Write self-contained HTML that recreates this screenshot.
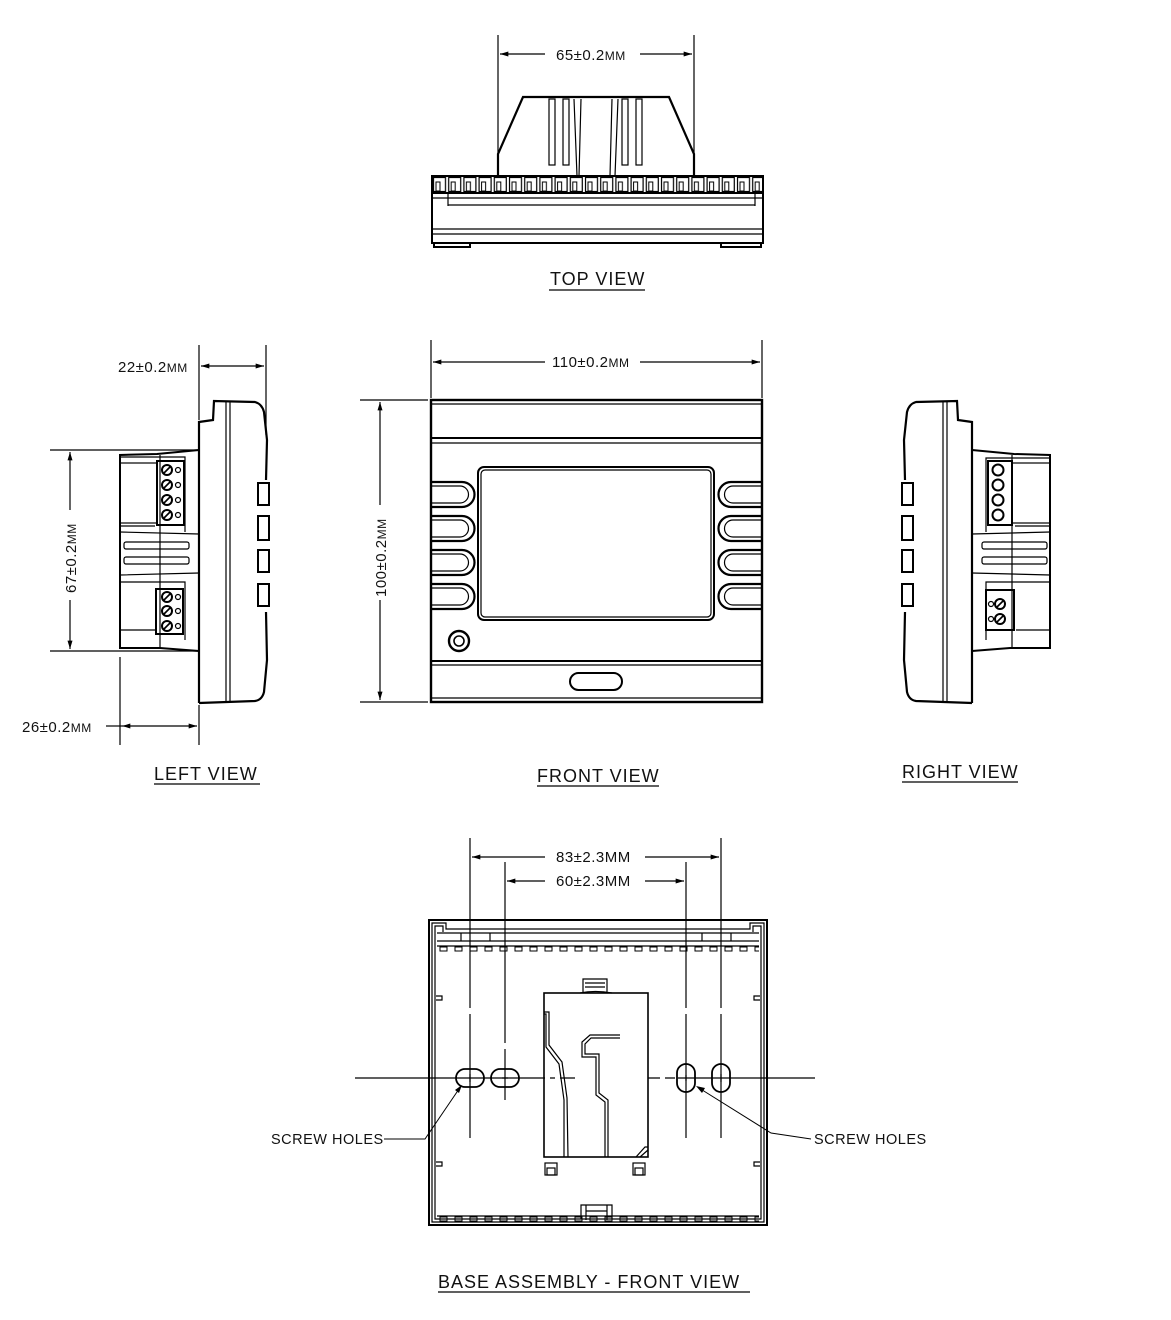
<!DOCTYPE html>
<html><head><meta charset="utf-8"><style>
html,body{margin:0;padding:0;background:#fff}
svg{display:block}
text{font-family:"Liberation Sans",sans-serif;fill:#111}
</style></head><body>
<svg width="1171" height="1320" viewBox="0 0 1171 1320" xmlns="http://www.w3.org/2000/svg">
<defs>
<marker id="a" viewBox="0 0 10 6" refX="10" refY="3" markerWidth="12" markerHeight="5" orient="auto-start-reverse" markerUnits="userSpaceOnUse"><path d="M0,0 L10,3 L0,6z" fill="#000"/></marker>
<pattern id="slots" x="432" y="176" width="15.2" height="17" patternUnits="userSpaceOnUse">
<rect x="1.5" y="1.5" width="12" height="14" fill="none" stroke="#000" stroke-width="1.2"/>
<rect x="4" y="6" width="4" height="9" fill="none" stroke="#000" stroke-width="1"/>
</pattern>
<pattern id="bslots" x="437" y="945" width="15" height="10" patternUnits="userSpaceOnUse">
<rect x="3" y="2" width="7" height="4" fill="none" stroke="#000" stroke-width="1"/>
</pattern>
</defs>
<g fill="none" stroke="#000" stroke-width="1.2">

<!-- ============ TOP VIEW ============ -->
<line x1="498" y1="35" x2="498" y2="158"/>
<line x1="694" y1="35" x2="694" y2="158"/>
<line x1="500" y1="54" x2="545" y2="54" marker-start="url(#a)"/>
<line x1="640" y1="54" x2="692" y2="54" marker-end="url(#a)"/>
<path d="M498,176 L498,154 L523,97 L669,97 L694,154 L694,176" stroke-width="2.2"/>
<rect x="549" y="99" width="6" height="66"/><rect x="563" y="99" width="6" height="66"/>
<path d="M574,99 L577,176 M581,99 L579,176"/>
<rect x="622" y="99" width="6" height="66"/><rect x="636" y="99" width="6" height="66"/>
<path d="M612,99 L610,176 M618,99 L615,176"/>
<rect x="432" y="176" width="331" height="17" fill="url(#slots)" stroke-width="2"/>
<rect x="432" y="193" width="331" height="50" stroke-width="2"/>
<line x1="432" y1="198" x2="763" y2="198"/>
<line x1="448" y1="205" x2="755" y2="205"/>
<path d="M448,193 L448,206 M755,193 L755,206"/>
<line x1="432" y1="229" x2="763" y2="229"/>
<line x1="432" y1="234" x2="763" y2="234"/>
<path d="M434,243 L434,247 L470,247 L470,243 M721,243 L721,247 L761,247 L761,243" stroke-width="2"/>

<!-- ============ FRONT VIEW ============ -->
<line x1="431" y1="340" x2="431" y2="398"/>
<line x1="762" y1="340" x2="762" y2="398"/>
<line x1="433" y1="362" x2="545" y2="362" marker-start="url(#a)"/>
<line x1="640" y1="362" x2="760" y2="362" marker-end="url(#a)"/>
<line x1="360" y1="400" x2="428" y2="400"/>
<line x1="360" y1="702" x2="428" y2="702"/>
<line x1="380" y1="402" x2="380" y2="505" marker-start="url(#a)"/>
<line x1="380" y1="600" x2="380" y2="700" marker-end="url(#a)"/>
<rect x="431" y="400" width="331" height="302" stroke-width="2.4"/>
<line x1="431" y1="404" x2="762" y2="404"/>
<line x1="431" y1="438" x2="762" y2="438" stroke-width="2"/>
<line x1="431" y1="443" x2="762" y2="443"/>
<line x1="431" y1="661" x2="762" y2="661" stroke-width="2"/>
<line x1="431" y1="665" x2="762" y2="665"/>
<line x1="431" y1="698" x2="762" y2="698"/>
<rect x="478" y="467" width="236" height="153" rx="6" stroke-width="2"/>
<rect x="481" y="470" width="230" height="147" rx="4"/>
<g stroke-width="2.2">
<path d="M431,482 L462,482 A12.5,12.5 0 0 1 462,507 L431,507"/>
<path d="M431,516 L462,516 A12.5,12.5 0 0 1 462,541 L431,541"/>
<path d="M431,550 L462,550 A12.5,12.5 0 0 1 462,575 L431,575"/>
<path d="M431,584 L462,584 A12.5,12.5 0 0 1 462,609 L431,609"/>
<path d="M762,482 L731,482 A12.5,12.5 0 0 0 731,507 L762,507"/>
<path d="M762,516 L731,516 A12.5,12.5 0 0 0 731,541 L762,541"/>
<path d="M762,550 L731,550 A12.5,12.5 0 0 0 731,575 L762,575"/>
<path d="M762,584 L731,584 A12.5,12.5 0 0 0 731,609 L762,609"/>
</g>
<path d="M431,486 L460,486 A8.5,8.5 0 0 1 460,503 L431,503 M431,520 L460,520 A8.5,8.5 0 0 1 460,537 L431,537 M431,554 L460,554 A8.5,8.5 0 0 1 460,571 L431,571 M431,588 L460,588 A8.5,8.5 0 0 1 460,605 L431,605"/>
<path d="M762,486 L733,486 A8.5,8.5 0 0 0 733,503 L762,503 M762,520 L733,520 A8.5,8.5 0 0 0 733,537 L762,537 M762,554 L733,554 A8.5,8.5 0 0 0 733,571 L762,571 M762,588 L733,588 A8.5,8.5 0 0 0 733,605 L762,605"/>
<circle cx="459" cy="641" r="10" stroke-width="2.4"/>
<circle cx="459" cy="641" r="5" stroke-width="1.6"/>
<rect x="570" y="673" width="52" height="17" rx="8.5" stroke-width="2"/>

<!-- ============ LEFT VIEW ============ -->
<line x1="199" y1="345" x2="199" y2="420"/>
<line x1="266" y1="345" x2="266" y2="435"/>
<line x1="201" y1="366" x2="264" y2="366" marker-start="url(#a)" marker-end="url(#a)"/>
<line x1="50" y1="450" x2="198" y2="450"/>
<line x1="50" y1="651" x2="198" y2="651"/>
<line x1="70" y1="452" x2="70" y2="510" marker-start="url(#a)"/>
<line x1="70" y1="600" x2="70" y2="649" marker-end="url(#a)"/>
<line x1="120" y1="657" x2="120" y2="745"/>
<line x1="199" y1="705" x2="199" y2="745"/>
<line x1="106" y1="726" x2="122" y2="726"/>
<line x1="122" y1="726" x2="197" y2="726" marker-start="url(#a)" marker-end="url(#a)"/>
<path d="M199,703 L199,422 L213,420 L214,401 L255,402 Q262,404 264,412 L267,440 L266,480 M266,612 L267,660 L264,692 Q262,700 255,701 L199,703" stroke-width="2.2"/>
<line x1="226" y1="402" x2="226" y2="702"/>
<line x1="230" y1="402" x2="230" y2="702"/>
<g stroke-width="2"><rect x="258" y="483" width="11" height="22"/><rect x="258" y="516" width="11" height="24"/><rect x="258" y="550" width="11" height="22"/><rect x="258" y="584" width="11" height="22"/></g>
<path d="M199,450 L157,454 L120,455 L120,648 L160,648 L199,651" stroke-width="2"/>
<path d="M120,457 L185,457 L185,532 M120,526 L155,526 M160,455 L160,648"/>
<rect x="120" y="463" width="37" height="60"/>
<rect x="157" y="461" width="27" height="64" stroke-width="2"/>
<path d="M120,532 L199,534 M120,575 L199,573"/>
<rect x="124" y="542" width="65" height="7" rx="2"/>
<rect x="124" y="557" width="65" height="7" rx="2"/>
<path d="M120,582 L185,582 L185,640 M120,630 L155,630"/>
<rect x="156" y="589" width="27" height="45" stroke-width="2"/>
<g stroke-width="2"><circle cx="167" cy="470" r="5"/><circle cx="167" cy="485" r="5"/><circle cx="167" cy="500" r="5"/><circle cx="167" cy="515" r="5"/><circle cx="167" cy="597" r="5"/><circle cx="167" cy="611" r="5"/><circle cx="167" cy="626" r="5"/></g>
<path d="M164,473 L170,467 M164,488 L170,482 M164,503 L170,497 M164,518 L170,512 M164,600 L170,594 M164,614 L170,608 M164,629 L170,623" stroke-width="1.6"/>
<g><circle cx="178" cy="470" r="2.5"/><circle cx="178" cy="485" r="2.5"/><circle cx="178" cy="500" r="2.5"/><circle cx="178" cy="515" r="2.5"/><circle cx="178" cy="597" r="2.5"/><circle cx="178" cy="611" r="2.5"/><circle cx="178" cy="626" r="2.5"/></g>

<!-- ============ RIGHT VIEW ============ -->
<path d="M972,703 L972,422 L958,420 L957,401 L916,402 Q909,404 907,412 L904,440 L905,480 M905,612 L904,660 L907,692 Q909,700 916,701 L972,703" stroke-width="2.2"/>
<line x1="943" y1="402" x2="943" y2="702"/>
<line x1="947" y1="402" x2="947" y2="702"/>
<g stroke-width="2"><rect x="902" y="483" width="11" height="22"/><rect x="902" y="516" width="11" height="24"/><rect x="902" y="550" width="11" height="22"/><rect x="902" y="584" width="11" height="22"/></g>
<path d="M972,450 L1014,454 L1050,455 L1050,648 L1010,648 L972,651" stroke-width="2"/>
<path d="M1050,458 L986,458 L986,532 M1050,526 L1015,526 M1012,455 L1012,648"/>
<rect x="1012" y="463" width="38" height="60"/>
<rect x="988" y="461" width="24" height="64" stroke-width="2"/>
<path d="M1050,532 L972,534 M1050,575 L972,573"/>
<rect x="982" y="542" width="65" height="7" rx="2"/>
<rect x="982" y="557" width="65" height="7" rx="2"/>
<path d="M1050,582 L986,582 L986,640 M1050,630 L1016,630"/>
<rect x="986" y="590" width="28" height="40" stroke-width="2"/>
<g stroke-width="2"><circle cx="998" cy="470" r="5.5"/><circle cx="998" cy="485" r="5.5"/><circle cx="998" cy="500" r="5.5"/><circle cx="998" cy="515" r="5.5"/><circle cx="1000" cy="604" r="5"/><circle cx="1000" cy="619" r="5"/></g>
<path d="M997,607 L1003,601 M997,622 L1003,616" stroke-width="1.6"/>
<circle cx="991" cy="604" r="2.5"/><circle cx="991" cy="619" r="2.5"/>

<!-- ============ BASE ASSEMBLY ============ -->
<line x1="470" y1="838" x2="470" y2="920"/>
<line x1="721" y1="838" x2="721" y2="920"/>
<line x1="505" y1="862" x2="505" y2="920"/>
<line x1="686" y1="862" x2="686" y2="920"/>
<line x1="472" y1="857" x2="545" y2="857" marker-start="url(#a)"/>
<line x1="645" y1="857" x2="719" y2="857" marker-end="url(#a)"/>
<line x1="507" y1="881" x2="545" y2="881" marker-start="url(#a)"/>
<line x1="645" y1="881" x2="684" y2="881" marker-end="url(#a)"/>
<path d="M470,920 L470,1008 M470,1014 L470,1138 M505,920 L505,1043 M505,1049 L505,1100 M686,920 L686,1008 M686,1014 L686,1138 M721,920 L721,1008 M721,1014 L721,1138"/>
<path d="M355,1078 L545,1078 M550,1078 L555,1078 M560,1078 L575,1078 M648,1078 L660,1078 M665,1078 L675,1078 M678,1078 L815,1078"/>
<rect x="429" y="920" width="338" height="305" stroke-width="2"/>
<path d="M432,1222 L432,923 L446,923 L446,929 L750,929 L750,923 L764,923 L764,1222 Z"/>
<path d="M443,932 L443,926 L435,926 L435,1219 L761,1219 L761,926 L753,926 L753,932"/>
<line x1="437" y1="933" x2="759" y2="933"/>
<line x1="437" y1="941" x2="759" y2="941"/>
<line x1="437" y1="946" x2="759" y2="946"/>
<path d="M461,933 L461,941 M490,933 L490,941 M702,933 L702,941 M731,933 L731,941"/>
<rect x="437" y="945" width="322" height="10" fill="url(#bslots)" stroke="none"/>
<rect x="437" y="1212" width="322" height="10" fill="url(#bslots)" stroke="none"/>
<line x1="437" y1="1216" x2="759" y2="1216"/>
<path d="M436,996 L442,996 L442,1000 L436,1000 M436,1162 L442,1162 L442,1166 L436,1166 M760,996 L754,996 L754,1000 L760,1000 M760,1162 L754,1162 L754,1166 L760,1166"/>
<rect x="544" y="993" width="104" height="164" stroke-width="1.6"/>
<path d="M583,993 L583,979 L607,979 L607,993 M580,993 Q595,990 612,993 M585,983 L605,983 M585,987 L605,987"/>
<path d="M544,1012 L549,1012 L549,1045 L562,1062 L567,1098 L568,1157 M544,1014 L546,1014 L546,1047 L559,1064 L564,1100 L564,1157" />
<path d="M620,1035 L590,1035 L582,1042 L582,1057 L596,1057 L596,1095 L605,1102 L605,1157 M620,1038 L591,1038 L585,1044 L585,1054 L599,1054 L599,1093 L608,1100 L608,1157"/>
<path d="M636,1157 L645,1147 L648,1147 M640,1157 L648,1150"/>
<rect x="545" y="1163" width="12" height="12"/><rect x="547" y="1168" width="8" height="7"/>
<rect x="633" y="1163" width="12" height="12"/><rect x="635" y="1168" width="8" height="7"/>
<path d="M581,1219 L581,1205 L612,1205 L612,1219 M586,1205 L586,1220 M607,1205 L607,1220 M586,1211 L607,1211"/>
<g stroke-width="1.8">
<rect x="456" y="1069" width="28" height="18" rx="9"/>
<rect x="491" y="1069" width="28" height="18" rx="9"/>
<rect x="677" y="1064" width="18" height="28" rx="9"/>
<rect x="712" y="1064" width="18" height="28" rx="9"/>
</g>
<path d="M470,1074 L470,1082 M502,1078 L508,1078 M686,1075 L686,1081 M721,1074 L721,1082"/>
<path d="M384,1139 L425,1139 L459,1089" stroke-width="1"/>
<path d="M462,1085 L455,1090 L459,1093 Z" fill="#000" stroke="none"/>
<path d="M811,1139 L771,1133 L699,1088" stroke-width="1"/>
<path d="M696,1086 L705,1088 L702,1093 Z" fill="#000" stroke="none"/>

<!-- underlines -->
<line x1="549" y1="290" x2="645" y2="290"/>
<line x1="154" y1="784" x2="260" y2="784"/>
<line x1="537" y1="786" x2="659" y2="786"/>
<line x1="902" y1="782" x2="1018" y2="782"/>
<line x1="438" y1="1292" x2="750" y2="1292"/>
</g>

<g font-size="15" letter-spacing="0.5">
<text x="556" y="60">65±0.2<tspan font-size="12">MM</tspan></text>
<text x="552" y="367">110±0.2<tspan font-size="12">MM</tspan></text>
<text x="118" y="372">22±0.2<tspan font-size="12">MM</tspan></text>
<text x="22" y="732">26±0.2<tspan font-size="12">MM</tspan></text>
<text transform="translate(76,593) rotate(-90)">67±0.2<tspan font-size="12">MM</tspan></text>
<text transform="translate(386,597) rotate(-90)">100±0.2<tspan font-size="12">MM</tspan></text>
<text x="556" y="862">83±2.3MM</text>
<text x="556" y="886">60±2.3MM</text>
<text x="271" y="1144" font-size="14.5">SCREW HOLES</text>
<text x="814" y="1144" font-size="14.5">SCREW HOLES</text>
</g>
<g font-size="18" letter-spacing="1">
<text x="550" y="285">TOP VIEW</text>
<text x="154" y="780">LEFT VIEW</text>
<text x="537" y="782">FRONT VIEW</text>
<text x="902" y="778">RIGHT VIEW</text>
<text x="438" y="1288">BASE ASSEMBLY - FRONT VIEW</text>
</g>
</svg>
</body></html>
